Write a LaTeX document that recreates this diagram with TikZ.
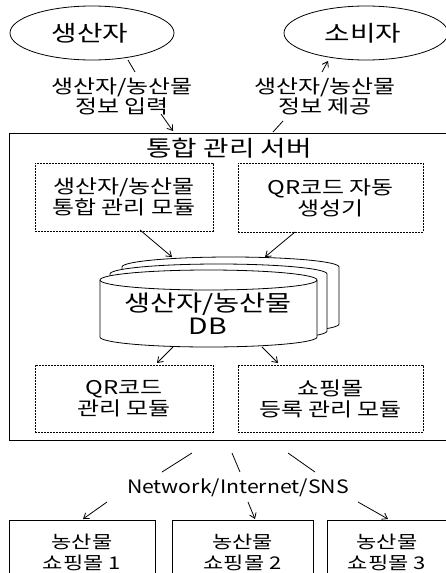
\documentclass[tikz,border=0pt]{standalone}
\usepackage{fontspec}
\setmainfont{Noto Sans CJK KR}[FakeStretch=1.26]
\newfontfamily\latinfont{Noto Sans CJK KR}[FakeStretch=1.15]
\usetikzlibrary{arrows.meta}
\begin{document}
\begin{tikzpicture}[x=1pt,y=-1pt,
  line width=0.8pt,
  txt/.style={align=center,inner sep=0pt,font=\fontsize{19}{19}\selectfont},
  big/.style={align=center,inner sep=0pt,font=\fontsize{22}{24}\selectfont},
  dbox/.style={draw,dash pattern=on 2pt off 1pt,line width=0.7pt,inner sep=0pt,align=center,font=\fontsize{19}{21}\selectfont},
  shop/.style={align=center,inner sep=0pt,font=\fontsize{17.5}{21}\selectfont},
  arr/.style={-{Straight Barb[length=5pt,width=7pt]},line width=0.8pt}]
\clip (0,0) rectangle (446,573);
\fill[white] (0,0) rectangle (446,573);
% ellipses
\draw (92,33) ellipse [x radius=82, y radius=27];
\node[big] (prod) at (90,33) {생산자};
\draw (366,33) ellipse [x radius=82, y radius=27];
\node[big] (cons) at (363,33) {소비자};
\coordinate (prodb) at (128,60);
\coordinate (consb) at (328,61);
% labels
\node[txt] (lin) at (122,96) {생산자/농산물\\정보 입력};
\node[txt] (lout) at (325,96) {생산자/농산물\\정보 제공};
% server
\draw (9,133) rectangle (452,440);
\coordinate (srvA) at (173,131);
\coordinate (srvB) at (273,132);
\node[font=\fontsize{22}{24}\selectfont,inner sep=0pt] (title) at (229,148) {통합 관리 서버};
\coordinate (lina) at (135,72);
\coordinate (linb) at (161,114);
\coordinate (louta) at (283,121);
\coordinate (loutb) at (322,72);
\draw (prodb) -- (lina);
\draw[arr] (linb) -- (srvA);
\draw (srvB) -- (louta);
\draw[arr] (loutb) -- (consb);
% dashed modules
\node[dbox,minimum width=178pt,minimum height=68pt] (m1) at (124,197) {생산자/농산물\\통합 관리 모듈};
\node[dbox,minimum width=185pt,minimum height=69pt] (m2) at (330.5,197.5) {QR코드 자동\\생성기};
\node[dbox,minimum width=178pt,minimum height=67pt] (m3) at (124,398.5) {QR코드\\관리 모듈};
\node[dbox,minimum width=185pt,minimum height=67pt] (m4) at (330.5,398.5) {쇼핑몰\\등록 관리 모듈};
% DB cylinders
\foreach \dx/\dy in {22/-13,10/-6,0/0}{
  \begin{scope}[shift={(\dx,\dy)}]
  \draw[fill=white] (100,280) -- (100,337) arc[start angle=180,end angle=0,x radius=108.5,y radius=10] -- (317,280) arc[start angle=0,end angle=-180,x radius=108.5,y radius=10] -- cycle;
  \end{scope}
}
\draw (100,280) arc[start angle=180,end angle=0,x radius=108.5,y radius=10];
\node[align=center,inner sep=0pt,font=\fontsize{22.5}{23}\selectfont] (db) at (208,314) {생산자/농산물\\DB};
\coordinate (dbtA) at (172,257);
\coordinate (dbtB) at (265,257);
\coordinate (dbbA) at (173,347);
\coordinate (dbbB) at (262,347);
\coordinate (m1o) at (140,230);
\coordinate (m2o) at (295,232);
\coordinate (m3i) at (157,363);
\coordinate (m4i) at (278,363);
\draw[arr] (m1o) -- (dbtA);
\draw[arr] (m2o) -- (dbtB);
\draw[arr] (dbbA) -- (m3i);
\draw[arr] (dbbB) -- (m4i);
% network
\node[inner sep=0pt,font=\latinfont\fontsize{18.5}{20}\selectfont] (net) at (238,488) {Network/Internet/SNS};
\coordinate (s1) at (192,453); \coordinate (n1) at (162,472);
\coordinate (s2) at (232,453); \coordinate (n2) at (240,472);
\coordinate (s3) at (288,453); \coordinate (n3) at (315,472);
\draw (s1) -- (n1);
\draw (s2) -- (n2);
\draw (s3) -- (n3);
\coordinate (o1) at (107,502); \coordinate (b1t) at (83,519);
\coordinate (o2) at (248,502); \coordinate (b2t) at (255,519);
\coordinate (o3) at (358,502); \coordinate (b3t) at (388,519);
\draw[arr] (o1) -- (b1t);
\draw[arr] (o2) -- (b2t);
\draw[arr] (o3) -- (b3t);
% shops
\draw (9,520) rectangle (155,590);
\node[shop] (shop1) at (82,552) {농산물\\쇼핑몰 1};
\draw (172,520) rectangle (313,590);
\node[shop] (shop2) at (242.5,552) {농산물\\쇼핑몰 2};
\draw (327,520) rectangle (460,590);
\node[shop] (shop3) at (387,552) {농산물\\쇼핑몰 3};
\end{tikzpicture}
\end{document}
